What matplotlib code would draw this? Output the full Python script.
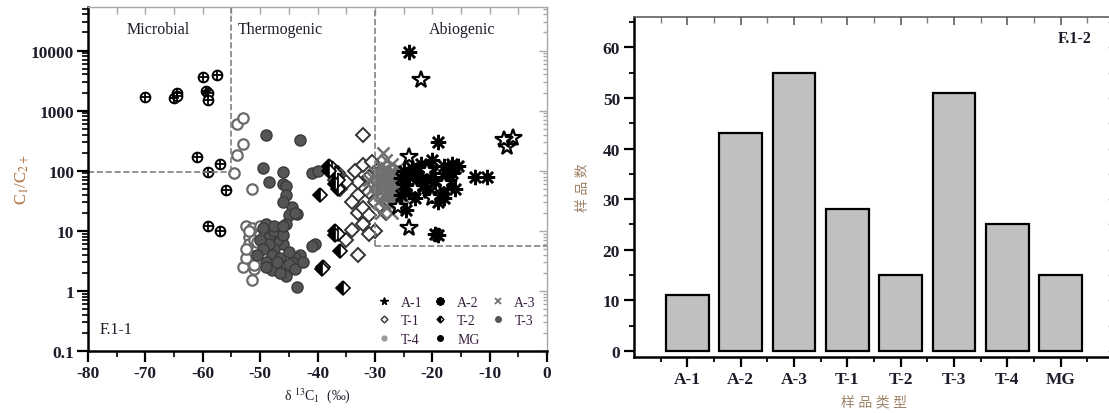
import matplotlib
matplotlib.use("Agg")
import matplotlib.pyplot as plt
from matplotlib.lines import Line2D
from matplotlib.ticker import FixedLocator, NullFormatter, LogLocator, MultipleLocator
import numpy as np

plt.rcParams["font.family"] = ["Liberation Serif", "Noto Sans CJK SC", "DejaVu Sans"]
plt.rcParams["mathtext.fontset"] = "stix"

# ---- Scatter data: delta13C1 (permil) vs C1/C2+ ----
a1_x = [-22, -7, -6, -7.5, -24, -24, -26, -21, -18, -23, -20]
a1_y = [3200, 250, 350, 330, 11, 170, 25, 100, 60, 50, 35]

a2_x = [-24, -19, -19, -19.5, -12.5, -10.5, -20, -18, -16, -16.5, -17, -15.5, -22, -23, -24,
        -21, -22.5, -24.5, -25, -25.5, -21.5, -20.5, -19, -18.5, -17, -16, -18, -20, -23.5,
        -22, -25, -21, -19.5, -17.5, -16.5, -24, -23, -20.5, -22, -18, -25.5, -21, -17]
a2_y = [9500, 300, 8.5, 9, 80, 80, 150, 120, 110, 90, 100, 120, 100, 90, 80,
        70, 60, 22, 60, 40, 55, 45, 30, 40, 70, 50, 80, 90, 110,
        130, 100, 110, 65, 55, 130, 45, 35, 120, 75, 35, 75, 85, 95]

a3_x = [-28.5, -28, -29, -27, -26.5, -28, -29.5, -27.5, -26, -28.5, -27, -29, -26.5, -28, -29.5,
        -27.5, -26, -25.5, -25, -25.5, -30, -30.5, -30, -31, -27, -26, -28.5, -27.5, -28, -27,
        -26.5, -29, -28, -27.5, -26, -29.5, -28.5, -27, -25.5, -26.5, -28, -29, -27, -30, -25,
        -28.5, -27.5, -26, -29, -27, -28, -26.5, -24.5, -30.5, -27.5]
a3_y = [200, 150, 120, 100, 90, 80, 70, 65, 60, 55, 50, 45, 40, 35, 30,
        28, 25, 70, 55, 45, 60, 50, 90, 70, 130, 110, 100, 75, 60, 40,
        70, 85, 45, 55, 85, 100, 40, 65, 90, 50, 25, 20, 20, 40, 35,
        70, 90, 45, 55, 80, 110, 30, 50, 80, 45]

t1_x = [-32, -30, -31, -33, -35, -34, -32, -33, -32, -33, -32, -31, -32, -33, -35,
        -36, -37, -30, -29, -31, -30, -29, -34, -31, -36.5, -30.5, -28, -33.5]
t1_y = [400, 10, 9, 4, 7, 10.5, 13, 20, 24, 40, 55, 80, 125, 65, 65,
        50, 70, 30, 25, 45, 60, 100, 30, 18, 90, 140, 20, 100]

t2_x = [-38, -37.5, -37, -37, -36.5, -39.5, -37, -37, -36.5, -36, -39, -39.2, -35.5, -36.5, -38]
t2_y = [120, 110, 90, 60, 50, 40, 10, 8.5, 9, 4.7, 2.5, 2.3, 1.1, 70, 100]

t3_x = [-49, -43, -49.5, -46, -41, -40, -48.5, -46, -45.5, -45.5, -44.5, -45, -45.5, -43.5, -46,
        -40.5, -41, -43, -44, -44.5, -45.5, -45.5, -43.5, -46, -47, -48, -49, -49.5, -48.5, -47.5,
        -48, -49, -47, -46.5, -45, -48.5, -50, -49.5, -48, -46.5, -47, -45, -44, -47.5, -46,
        -50.5, -49, -47.5, -44, -46, -42.5]
t3_y = [400, 320, 110, 95, 90, 100, 65, 60, 55, 40, 25, 18, 13, 19, 30,
        6, 5.5, 4, 3.5, 3, 2, 1.8, 1.15, 6, 7, 9, 13, 11, 8, 5,
        4, 3, 2.5, 3.5, 4.5, 6, 7, 5, 2.2, 2, 3, 2.8, 2.3, 10, 8.5,
        4, 2.5, 12, 20, 12, 3]

t4_x = [-54, -53, -53, -54, -54.5, -51.5, -52.5, -51.5, -52, -52, -51.5, -53, -51, -51.5, -52.5,
        -51, -50, -50.5, -50, -51, -52, -50.5, -52.5, -50, -49.5]
t4_y = [600, 750, 280, 180, 90, 50, 12, 11, 8, 6, 4.5, 2.5, 2.3, 1.5, 3.5,
        7, 9, 5, 3, 2.7, 10, 6.5, 5, 12, 8]

mg_x = [-70, -65, -64.5, -64.5, -60, -57.5, -59.5, -59, -59, -61, -59, -57, -56, -59, -57]
mg_y = [1700, 1600, 2000, 1750, 3600, 3900, 2100, 2000, 1500, 170, 95, 130, 47, 12, 10]

# ---- Bar data: sample counts per type ----
types = ["A-1", "A-2", "A-3", "T-1", "T-2", "T-3", "T-4", "MG"]
counts = [11, 43, 55, 28, 15, 51, 25, 15]

TXT = "#1c1c2a"
GRID_GRAY = "#a8a8a8"

fig = plt.figure(figsize=(11.09, 4.14), dpi=100)
ax1 = fig.add_axes([88 / 1109, 1 - 352 / 414, 459 / 1109, 344 / 414])
ax2 = fig.add_axes([634 / 1109, 1 - 358 / 414, 480 / 1109, 340 / 414])

# ---- Left panel: scatter ----
ax1.set_yscale("log")
ax1.plot(t4_x, t4_y, "o", ms=7.5, mfc="white", mec="#6a6a6a", mew=1.6, ls="none")
ax1.plot(t3_x, t3_y, "o", ms=8, mfc="#555555", mec="#3a3a3a", mew=1.0, ls="none")
ax1.plot(t1_x, t1_y, "D", ms=7, mfc="white", mec="#333333", mew=1.4, ls="none")
ax1.plot(t2_x, t2_y, "D", ms=7, mfc="black", mfcalt="white", fillstyle="left",
         mec="black", mew=1.2, ls="none")
ax1.plot(a3_x, a3_y, "x", ms=9, mec="#707070", mew=1.8, ls="none")
ax1.plot(a2_x, a2_y, marker=(8, 2, 0), ms=11, mec="black", mew=1.8, ls="none")
ax1.plot(a1_x, a1_y, "*", ms=13, mfc="white", mec="black", mew=1.6, ls="none")
ax1.plot(mg_x, mg_y, "o", ms=7, mfc="white", mec="black", mew=1.4, ls="none")
ax1.plot(mg_x, mg_y, "+", ms=7, mec="black", mew=1.3, ls="none")

# classification boundaries
ax1.plot([-55, -55], [95, 60000], ls="--", color="#808080", lw=1.2)
ax1.plot([-80, -55], [95, 95], ls="--", color="#808080", lw=1.2)
ax1.plot([-30, -30], [5.5, 60000], ls="--", color="#808080", lw=1.2)
ax1.plot([-30, 0], [5.5, 5.5], ls="--", color="#808080", lw=1.2)

ax1.text(-67.8, 23000, "Microbial", fontsize=11.5, color=TXT, ha="center", va="center")
ax1.text(-46.5, 23000, "Thermogenic", fontsize=11.5, color=TXT, ha="center", va="center")
ax1.text(-14.8, 23000, "Abiogenic", fontsize=11.5, color=TXT, ha="center", va="center")
ax1.text(-77.9, 0.235, "F.1-1", fontsize=11.5, color=TXT, ha="left", va="center")

ax1.set_xlim(-80, 0)
ax1.set_ylim(0.1, 53000)
ax1.set_xticks(np.arange(-80, 1, 10))
ax1.set_xticklabels([str(v) for v in range(-80, 1, 10)])
ax1.xaxis.set_minor_locator(MultipleLocator(5))
yt = [0.1, 1, 10, 100, 1000, 10000]
ax1.yaxis.set_major_locator(FixedLocator(yt))
ax1.set_yticklabels(["0.1", "1", "10", "100", "1000", "10000"])
ax1.yaxis.set_minor_locator(LogLocator(base=10, subs=np.arange(2, 10)))
ax1.yaxis.set_minor_formatter(NullFormatter())
ax1.tick_params(which="major", direction="out", length=8, width=1.6, labelsize=12.5,
                colors="black", labelcolor=TXT, top=False, right=False, pad=2)
ax1.tick_params(which="minor", direction="out", length=4, width=1.2, top=False, right=False)
for lab in ax1.get_xticklabels() + ax1.get_yticklabels():
    lab.set_fontweight("bold")

for side in ["left", "bottom"]:
    ax1.spines[side].set_linewidth(1.8)
for side in ["top", "right"]:
    ax1.spines[side].set_color(GRID_GRAY)
    ax1.spines[side].set_linewidth(1.0)

top1 = ax1.secondary_xaxis("top")
top1.set_xticks(np.arange(-80, 1, 10))
top1.xaxis.set_minor_locator(MultipleLocator(5))
top1.tick_params(which="both", direction="in", length=5, width=1.0, colors=GRID_GRAY, labeltop=False)
top1.spines["top"].set_visible(False)
right1 = ax1.secondary_yaxis("right")
right1.yaxis.set_major_locator(FixedLocator(yt))
right1.yaxis.set_minor_locator(LogLocator(base=10, subs=np.arange(2, 10)))
right1.tick_params(which="major", direction="in", length=6, width=1.0, colors=GRID_GRAY, labelright=False)
right1.tick_params(which="minor", direction="in", length=3, width=1.0, colors=GRID_GRAY, labelright=False)
right1.yaxis.set_minor_formatter(NullFormatter())
right1.spines["right"].set_visible(False)

ax1.set_xlabel(r"δ $^{13}$C$_{1}$  (‰)", fontsize=10, color=TXT, labelpad=3)
ax1.set_ylabel(r"C$_1$/C$_{2+}$", fontsize=12, color="#b0703c", labelpad=0)

handles = [
    Line2D([], [], marker="*", ms=5.5, color="black", ls="none"),
    Line2D([], [], marker="D", ms=3.5, mfc="white", mec="#333333", mew=1.0, ls="none"),
    Line2D([], [], marker="o", ms=3.5, color="#9a9a9a", ls="none"),
    Line2D([], [], marker=(8, 2, 0), ms=6, mec="black", mew=1.6, ls="none"),
    Line2D([], [], marker="D", ms=3.5, mfc="black", mfcalt="white", fillstyle="left",
           mec="black", mew=1.0, ls="none"),
    (Line2D([], [], marker="o", ms=4, color="black", ls="none"),
     Line2D([], [], marker="+", ms=5, mec="black", mew=1.0, ls="none")),
    Line2D([], [], marker="x", ms=4.5, mec="#707070", mew=1.3, ls="none"),
    Line2D([], [], marker="o", ms=4, color="#555555", ls="none"),
]
labels = ["A-1", "T-1", "T-4", "A-2", "T-2", "MG", "A-3", "T-3"]
leg = ax1.legend(handles, labels, ncol=3, loc="upper left", bbox_to_anchor=(0.63, 0.16),
                 frameon=False, fontsize=10, handlelength=1.0, handletextpad=0.7,
                 columnspacing=0.8, labelspacing=0.38, borderpad=0, borderaxespad=0)
for t in leg.get_texts():
    t.set_color("#3a2040")

# ---- Right panel: bar chart ----
pos = np.arange(1, len(types) + 1)
ax2.bar(pos, counts, width=0.8, color="#c0c0c0", edgecolor="black", linewidth=1.6)
ax2.set_xlim(0, 9)
ax2.set_ylim(-1.2, 66)
ax2.set_xticks(pos)
ax2.set_xticklabels(types)
ax2.xaxis.set_minor_locator(FixedLocator(np.arange(0.5, 9, 1.0)))
ax2.set_yticks(np.arange(0, 61, 10))
ax2.yaxis.set_minor_locator(MultipleLocator(5))
ax2.tick_params(which="major", direction="out", length=7, width=1.6, labelsize=12.5,
                labelcolor=TXT, top=False, right=False, pad=3)
ax2.tick_params(which="minor", direction="out", length=3.5, width=1.3, top=False, right=False)
for lab in ax2.get_xticklabels() + ax2.get_yticklabels():
    lab.set_fontweight("bold")
for side in ["left", "bottom"]:
    ax2.spines[side].set_linewidth(1.8)
ax2.spines["top"].set_color("#606060")
ax2.spines["top"].set_linewidth(1.2)
ax2.spines["right"].set_color(GRID_GRAY)

top2 = ax2.secondary_xaxis("top")
top2.set_xticks(pos)
top2.xaxis.set_minor_locator(FixedLocator(np.arange(0.5, 9, 1.0)))
top2.tick_params(which="major", direction="in", length=6, width=1.2, colors="#606060", labeltop=False)
top2.tick_params(which="minor", direction="in", length=4, width=1.0, colors="#808080", labeltop=False)
top2.spines["top"].set_visible(False)
right2 = ax2.secondary_yaxis("right")
right2.set_yticks(np.arange(0, 61, 10))
right2.yaxis.set_minor_locator(MultipleLocator(5))
right2.tick_params(which="both", direction="in", length=4, width=1.0, colors=GRID_GRAY, labelright=False)
right2.spines["right"].set_visible(False)

ax2.text(7.94, 61.8, "F.1-2", fontsize=11.5, fontweight="bold", color=TXT, ha="left", va="center")
ax2.set_xlabel("样 品 类 型", fontsize=10, color="#a08468", labelpad=6)
ax2.set_ylabel("样 品 数", fontsize=10, color="#a08468", labelpad=9)

fig.savefig("out.png", dpi=100)
